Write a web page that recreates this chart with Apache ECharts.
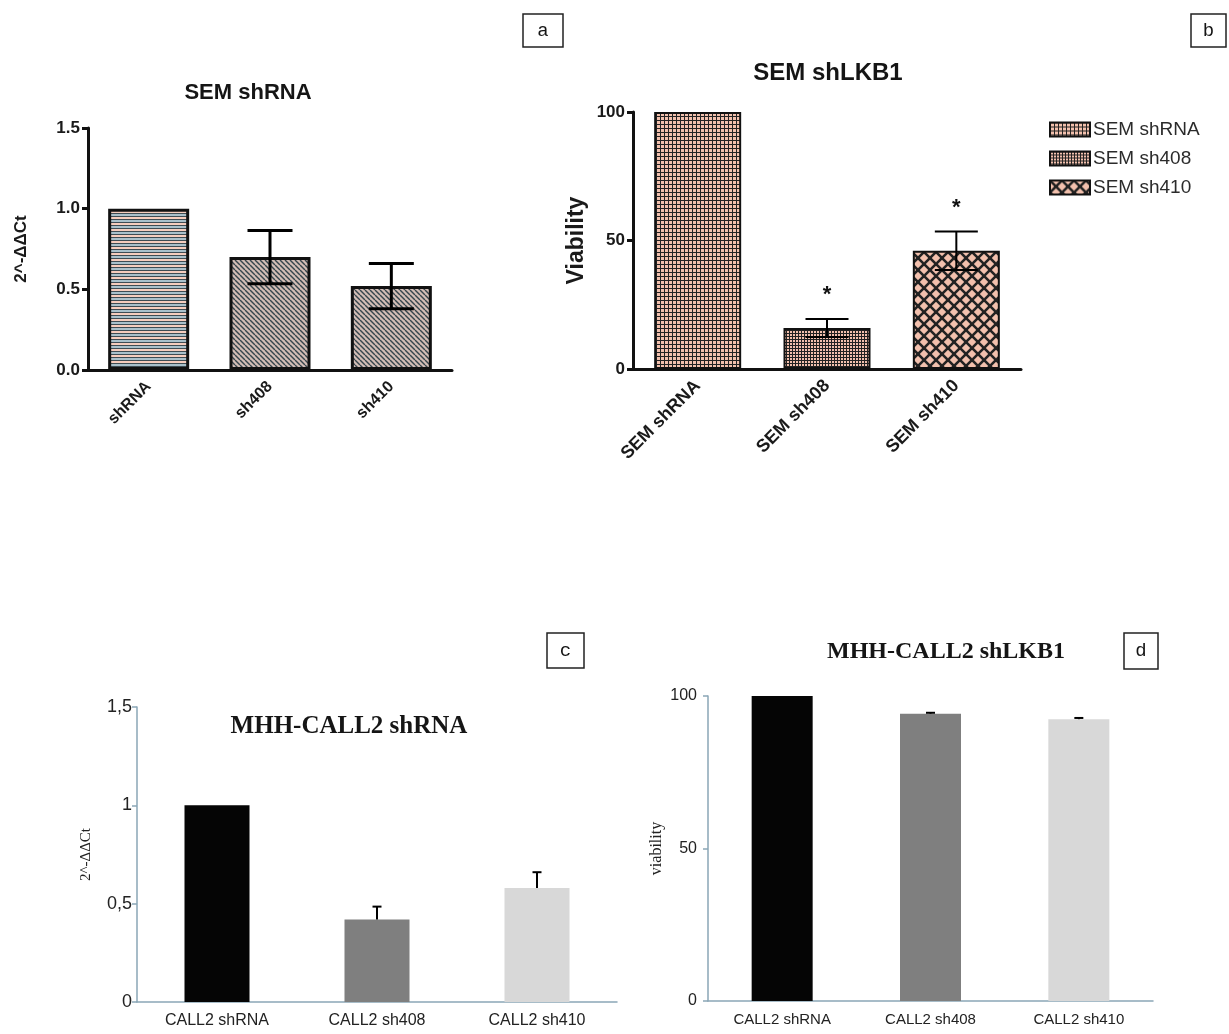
<!DOCTYPE html>
<html>
<head>
<meta charset="utf-8">
<title>shLKB1 knockdown</title>
<script src="https://cdn.jsdelivr.net/npm/echarts@6/dist/echarts.min.js"></script>
<style>
  html, body { margin: 0; padding: 0; background: #fff; }
  #chart { width: 1229px; height: 1034px; }
</style>
</head>
<body>
<div id="chart"></div>
<script>
// ---- data ----
const catA = ['shRNA', 'sh408', 'sh410'];
const valA = [1.0, 0.70, 0.52];
const errA = [0, 0.165, 0.14];

const catB = ['SEM shRNA', 'SEM sh408', 'SEM sh410'];
const valB = [100, 16, 46];
const errB = [0, 3.5, 7.5];
const sigB = ['', '*', '*'];

const catC = ['CALL2 shRNA', 'CALL2 sh408', 'CALL2 sh410'];
const valC = [1.0, 0.42, 0.58];
const errC = [0, 0.065, 0.08];

const catD = ['CALL2 shRNA', 'CALL2 sh408', 'CALL2 sh410'];
const valD = [100, 94.2, 92.4];
const errD = [0, 0.3, 0.4];

const ratioTicks = [0, 0.5, 1.0, 1.5];
const viabTicks = [0, 50, 100];

// ---- fill patterns ----
const PINK = '#f2c0ad';
const DARK = '#222222';

function tile(w, h, draw) {
  const c = document.createElement('canvas');
  c.width = w; c.height = h;
  draw(c.getContext('2d'), w, h);
  return { image: c, repeat: 'repeat' };
}
const patStripes = tile(6, 6, (g) => {
  g.fillStyle = '#f6cdbd'; g.fillRect(0, 0, 6, 3);
  g.fillStyle = '#a9c0ca'; g.fillRect(0, 3, 6, 3);
  g.fillStyle = '#3e4c53'; g.fillRect(0, 0, 6, 1); g.fillRect(0, 3, 6, 1);
});
const patHatch = tile(5, 5, (g, w) => {
  g.fillStyle = '#d3bdb5'; g.fillRect(0, 0, w, w);
  g.strokeStyle = '#36454c'; g.lineWidth = 1.4;
  for (let k = -1; k <= 1; k++) {
    g.beginPath(); g.moveTo(k * w, 0); g.lineTo(k * w + w, w); g.stroke();
  }
});
const patGrid = tile(4, 4, (g) => {
  g.fillStyle = PINK; g.fillRect(0, 0, 4, 4);
  g.fillStyle = DARK; g.fillRect(0, 0, 4, 1); g.fillRect(0, 0, 1, 4);
});
const patChecker = tile(3, 3, (g) => {
  g.fillStyle = DARK; g.fillRect(0, 0, 3, 3);
  g.fillStyle = PINK; g.fillRect(1, 1, 2, 2);
});
const patDiamond = tile(12, 12, (g, w) => {
  g.fillStyle = PINK; g.fillRect(0, 0, w, w);
  g.strokeStyle = DARK; g.lineWidth = 2.6;
  for (let k = -1; k <= 1; k++) {
    g.beginPath(); g.moveTo(k * w, 0); g.lineTo(k * w + w, w); g.stroke();
    g.beginPath(); g.moveTo(k * w + w, 0); g.lineTo(k * w, w); g.stroke();
  }
});

const fillsA = [patStripes, patHatch, patHatch];
const fillsB = [patGrid, patChecker, patDiamond];
const fillsC = ['#050505', '#7f7f7f', '#d8d8d8'];

// ---- error bars ----
function errorBars(err, opt) {
  return function (params, api) {
    const i = api.value(0), v = api.value(1), e = err[i];
    const kids = [];
    const half = opt.cap / 2;
    const lineStyle = { stroke: '#000', lineWidth: opt.width };
    if (e > 0) {
      const top = api.coord([i, v + e]);
      const bot = api.coord([i, opt.both ? v - e : v]);
      kids.push({ type: 'line', shape: { x1: top[0], y1: top[1], x2: bot[0], y2: bot[1] }, style: lineStyle });
      kids.push({ type: 'line', shape: { x1: top[0] - half, y1: top[1], x2: top[0] + half, y2: top[1] }, style: lineStyle });
      if (opt.both) {
        kids.push({ type: 'line', shape: { x1: bot[0] - half, y1: bot[1], x2: bot[0] + half, y2: bot[1] }, style: lineStyle });
      }
      if (opt.sig && opt.sig[i]) {
        kids.push({ type: 'text', x: top[0], y: top[1] - 24,
          style: { text: opt.sig[i], fill: '#111', font: 'bold 22px "Liberation Sans"', align: 'center', verticalAlign: 'middle' } });
      }
    }
    return { type: 'group', children: kids };
  };
}
const idx = (arr) => arr.map((v, i) => [i, v]);

// ---- axes ----
const boldFont = '"Liberation Sans", Arial, sans-serif';
const plainFont = '"Liberation Sans", Arial, sans-serif';
const serifFont = '"Liberation Serif", "Times New Roman", serif';

function prismX(gi, cats, labelSize) {
  return {
    type: 'category', gridIndex: gi, data: cats,
    axisLine: { lineStyle: { color: '#111', width: 3 } },
    axisTick: { alignWithLabel: true, length: 7, lineStyle: { color: '#111', width: 3 } },
    axisLabel: { rotate: 45, margin: 14, fontSize: labelSize, fontWeight: 'bold', fontFamily: boldFont, color: '#1a1a1a' }
  };
}
function prismY(gi, ticks, fmt, name, nameGap, nameSize) {
  return {
    type: 'value', gridIndex: gi, min: ticks[0], max: ticks[ticks.length - 1],
    interval: ticks[1] - ticks[0],
    splitLine: { show: false },
    axisLine: { show: true, lineStyle: { color: '#111', width: 3 } },
    axisTick: { show: true, length: 6, lineStyle: { color: '#111', width: 3 } },
    axisLabel: { formatter: fmt, margin: 8, fontSize: 17, fontWeight: 'bold', fontFamily: boldFont, color: '#1a1a1a' },
    name: name, nameLocation: 'middle', nameRotate: 90, nameGap: nameGap,
    nameTextStyle: { fontSize: nameSize, fontWeight: 'bold', fontFamily: boldFont, color: '#1a1a1a' }
  };
}
const AXC = '#8aa6b6';
function officeX(gi, cats, size) {
  return {
    type: 'category', gridIndex: gi, data: cats,
    axisLine: { lineStyle: { color: AXC, width: 1.5 } },
    axisTick: { length: 5, lineStyle: { color: AXC, width: 1.5 } },
    axisLabel: { margin: 11, fontSize: size, fontFamily: plainFont, color: '#222' }
  };
}
function officeY(gi, ticks, fmt, name, nameGap, margin, size, nameSize) {
  return {
    type: 'value', gridIndex: gi, min: ticks[0], max: ticks[ticks.length - 1],
    interval: ticks[1] - ticks[0],
    splitLine: { show: false },
    axisLine: { show: true, lineStyle: { color: AXC, width: 1.5 } },
    axisTick: { show: true, length: 5, lineStyle: { color: AXC, width: 1.5 } },
    axisLabel: { formatter: fmt, margin: margin, fontSize: size, fontFamily: plainFont, color: '#222' },
    name: name, nameLocation: 'middle', nameRotate: 90, nameGap: nameGap,
    nameTextStyle: { fontSize: nameSize, fontFamily: serifFont, color: '#222' }
  };
}

// ---- series ----
const series = [];
series.push({
  type: 'bar', xAxisIndex: 0, yAxisIndex: 0, barWidth: 81,
  data: valA.map((v, i) => ({ value: v, itemStyle: { color: fillsA[i], borderColor: '#111', borderWidth: 3 } }))
});
series.push({ type: 'custom', xAxisIndex: 0, yAxisIndex: 0, z: 5,
  renderItem: errorBars(errA, { cap: 45, width: 3, both: true }), data: idx(valA) });

catB.forEach((name, k) => {
  series.push({
    name: name, type: 'bar', xAxisIndex: 1, yAxisIndex: 1, barWidth: 87, barGap: '-100%',
    itemStyle: { color: fillsB[k], borderColor: '#111', borderWidth: 2 },
    data: valB.map((v, i) => (i === k ? v : '-'))
  });
});
series.push({ type: 'custom', xAxisIndex: 1, yAxisIndex: 1, z: 5,
  renderItem: errorBars(errB, { cap: 43, width: 2, both: true, sig: sigB }), data: idx(valB) });

series.push({
  type: 'bar', xAxisIndex: 2, yAxisIndex: 2, barWidth: 65,
  data: valC.map((v, i) => ({ value: v, itemStyle: { color: fillsC[i] } }))
});
series.push({ type: 'custom', xAxisIndex: 2, yAxisIndex: 2, z: 5,
  renderItem: errorBars(errC, { cap: 9, width: 2, both: false }), data: idx(valC) });

series.push({
  type: 'bar', xAxisIndex: 3, yAxisIndex: 3, barWidth: 61,
  data: valD.map((v, i) => ({ value: v, itemStyle: { color: fillsC[i] } }))
});
series.push({ type: 'custom', xAxisIndex: 3, yAxisIndex: 3, z: 5,
  renderItem: errorBars(errD, { cap: 9, width: 2, both: false }), data: idx(valD) });

// ---- titles and panel letters ----
function label(x, y, text, font) {
  return { type: 'text', x: x, y: y, z: 10,
    style: { text: text, font: font, fill: '#151515', align: 'center', verticalAlign: 'middle' } };
}
function letterBox(x, y, w, h, letter) {
  return [
    { type: 'rect', shape: { x: x, y: y, width: w, height: h }, z: 9,
      style: { fill: '#fff', stroke: '#222', lineWidth: 1.5 } },
    label(x + w / 2, y + h / 2, letter, '19px "Liberation Mono", "DejaVu Sans Mono", monospace')
  ];
}
const graphic = [
  label(248, 93, 'SEM shRNA', 'bold 22px ' + boldFont),
  label(828, 73, 'SEM shLKB1', 'bold 24px ' + boldFont),
  label(349, 727, 'MHH-CALL2 shRNA', 'bold 25px ' + serifFont),
  label(946, 652, 'MHH-CALL2 shLKB1', 'bold 24px ' + serifFont)
].concat(
  letterBox(523, 14, 40, 33, 'a'),
  letterBox(1191, 14, 35, 33, 'b'),
  letterBox(547, 633, 37, 35, 'c'),
  letterBox(1124, 633, 34, 36, 'd')
);

const option = {
  animation: false,
  backgroundColor: '#fff',
  grid: [
    { left: 88, top: 128, width: 364, height: 242 },
    { left: 633, top: 112, width: 388, height: 257 },
    { left: 137, top: 707, width: 480, height: 295 },
    { left: 708, top: 696, width: 445, height: 305 }
  ],
  xAxis: [
    prismX(0, catA, 16),
    prismX(1, catB, 18),
    officeX(2, catC, 16),
    officeX(3, catD, 15)
  ],
  yAxis: [
    prismY(0, ratioTicks, (v) => v.toFixed(1), '2^-ΔΔCt', 58, 17),
    prismY(1, viabTicks, (v) => String(v), 'Viability', 45, 23),
    officeY(2, ratioTicks, (v) => String(v).replace('.', ','), '2^-ΔΔCt', 43, 5, 18, 15),
    officeY(3, viabTicks, (v) => String(v), 'viability', 43, 11, 16, 16)
  ],
  legend: {
    orient: 'vertical', left: 1044, top: 115, itemGap: 10,
    itemWidth: 40, itemHeight: 14, itemStyle: { borderWidth: 2, borderColor: '#111' },
    icon: 'rect',
    data: catB,
    textStyle: { fontSize: 19, fontFamily: plainFont, color: '#2b2b2b', padding: [0, 0, 0, -2] }
  },
  graphic: graphic,
  series: series
};

echarts.init(document.getElementById('chart'), null, { renderer: 'canvas' }).setOption(option);
</script>
</body>
</html>
